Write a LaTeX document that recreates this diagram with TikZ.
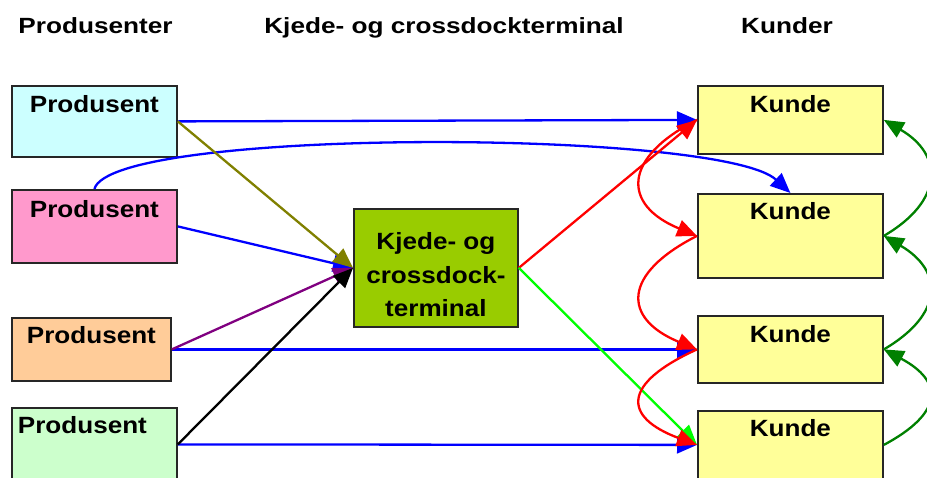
\documentclass[tikz,border=0pt]{standalone}
\usepackage{fontspec}
\setmainfont{Liberation Sans}[FakeStretch=1.11]
\newfontfamily\hdrfont{Liberation Sans}[FakeStretch=1.19]
\usetikzlibrary{arrows.meta,calc}

\definecolor{prodA}{HTML}{CCFFFF}
\definecolor{prodB}{HTML}{FF99CC}
\definecolor{prodC}{HTML}{FFCC99}
\definecolor{prodD}{HTML}{CCFFCC}
\definecolor{termfill}{HTML}{99CC00}
\definecolor{kundefill}{HTML}{FFFF99}
\definecolor{lnBlue}{HTML}{0000FF}
\definecolor{lnOlive}{HTML}{808000}
\definecolor{lnPurple}{HTML}{800080}
\definecolor{lnRed}{HTML}{FF0000}
\definecolor{lnLime}{HTML}{00FF00}
\definecolor{lnGreen}{HTML}{008000}

\tikzset{
  box/.style={draw=black!85, line width=1.8pt, inner sep=0pt, anchor=north west,
    font=\fontsize{23.5}{28}\selectfont\bfseries},
  hdr/.style={font=\hdrfont\fontsize{22}{26}\selectfont\bfseries, anchor=base, inner sep=0pt},
  tlabel/.style={font=\fontsize{23.5}{33.5}\selectfont\bfseries, align=center, inner sep=0pt},
  conn/.style={line width=2.3pt, -{Triangle[length=20pt,width=17pt]}},
}

\begin{document}
\begin{tikzpicture}[x=1pt,y=-1pt]
\useasboundingbox (0,0) rectangle (927,477);
\clip (0,0) rectangle (927,477);

% column headings
\node[hdr] (hP) at (95.5,33) {Produsenter};
\node[hdr] (hT) at (444,33) {Kjede- og crossdockterminal};
\node[hdr] (hK) at (787,33) {Kunder};

% producers
\node[box, fill=prodA, minimum width=165pt, text height=27pt, text depth=44pt] (P1) at (11,85) {Produsent};
\node[box, fill=prodB, minimum width=165pt, text height=28pt, text depth=45pt] (P2) at (11,189) {Produsent};
\node[box, fill=prodC, minimum width=159pt, text height=26pt, text depth=37pt] (P3) at (11,317) {Produsent};
\node[box, fill=prodD, minimum width=165pt, text height=26pt, text depth=47pt] (P4) at (11,407) {\makebox[153pt][l]{Produsent}};

% terminal
\node[box, fill=termfill, minimum width=164pt, minimum height=118pt] (T) at (353,208) {};
\node[tlabel] (Tt) at ($(T.center)+(0,7)$) {Kjede- og\\crossdock-\\terminal};

% customers
\node[box, fill=kundefill, minimum width=185pt, text height=27pt, text depth=41pt] (K1) at (697,85) {Kunde};
\node[box, fill=kundefill, minimum width=185pt, text height=26pt, text depth=58pt] (K2) at (697,193) {Kunde};
\node[box, fill=kundefill, minimum width=185pt, text height=27pt, text depth=40pt] (K3) at (697,315) {Kunde};
\node[box, fill=kundefill, minimum width=185pt, text height=26pt, text depth=42pt] (K4) at (697,410) {Kunde};

% direct deliveries
\draw[conn, lnBlue] (P2.east) -- (T.west);
\draw[conn, lnBlue] (P1.east) -- (K1.west);
\draw[conn, lnBlue] (P2.north) .. controls +(17,-62) and +(-69,-64) .. (K2.north);
\draw[conn, lnBlue] (P3.east) -- (K3.west);
\draw[conn, lnBlue] (P4.east) -- (K4.west);

% deliveries into the terminal
\draw[conn, lnOlive] (P1.east) -- (T.west);
\draw[conn, lnPurple] (P3.east) -- (T.west);
\draw[conn, black] (P4.east) -- (T.west);

% deliveries out of the terminal
\draw[conn, lnRed] (T.east) -- (K1.west);
\draw[conn, lnLime] (T.east) -- (K4.west);

% exchange between customers
\draw[conn, lnRed] (K1.west) .. controls +(-75,38) and +(-75,-31) .. (K2.west);
\draw[conn, lnRed] (K2.west) .. controls +(-75,38) and +(-75,-31) .. (K3.west);
\draw[conn, lnRed] (K3.west) .. controls +(-75,34) and +(-75,-28) .. (K4.west);

\draw[conn, lnGreen] (K2.east) .. controls +(60,-35) and +(60,35) .. (K1.east);
\draw[conn, lnGreen] (K3.east) .. controls +(60,-35) and +(60,35) .. (K2.east);
\draw[conn, lnGreen] (K4.east) .. controls +(60,-32) and +(60,32) .. (K3.east);
\end{tikzpicture}
\end{document}
